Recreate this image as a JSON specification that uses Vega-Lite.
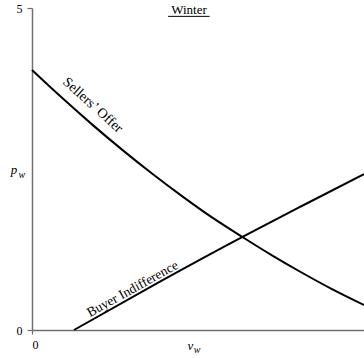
{
  "$schema": "https://vega.github.io/schema/vega-lite/v6.json",
  "width": 332,
  "height": 322,
  "autosize": {"type": "none"},
  "padding": {"left": 32, "top": 8, "right": 0, "bottom": 28},
  "background": "white",
  "config": {
    "view": {"stroke": null},
    "font": "Liberation Serif",
    "text": {"font": "Liberation Serif"},
    "axis": {
      "grid": false,
      "domainColor": "#707070",
      "domainWidth": 1.5,
      "tickColor": "#707070",
      "tickWidth": 1.2,
      "labelFont": "Liberation Serif",
      "labelFontSize": 12,
      "labelColor": "black",
      "title": null
    }
  },
  "datasets": {
    "curves": [
      {"series": "Sellers’ Offer", "v": 0.0, "p": 4.037},
      {"series": "Sellers’ Offer", "v": 0.0904, "p": 3.605},
      {"series": "Sellers’ Offer", "v": 0.1807, "p": 3.193},
      {"series": "Sellers’ Offer", "v": 0.2711, "p": 2.801},
      {"series": "Sellers’ Offer", "v": 0.3614, "p": 2.43},
      {"series": "Sellers’ Offer", "v": 0.4518, "p": 2.079},
      {"series": "Sellers’ Offer", "v": 0.5422, "p": 1.748},
      {"series": "Sellers’ Offer", "v": 0.6325, "p": 1.448},
      {"series": "Sellers’ Offer", "v": 0.7229, "p": 1.159},
      {"series": "Sellers’ Offer", "v": 0.8133, "p": 0.889},
      {"series": "Sellers’ Offer", "v": 0.9036, "p": 0.635},
      {"series": "Sellers’ Offer", "v": 1.0, "p": 0.388},
      {"series": "Buyer Indifference", "v": 0.1265, "p": 0.0},
      {"series": "Buyer Indifference", "v": 0.38, "p": 0.735},
      {"series": "Buyer Indifference", "v": 0.6355, "p": 1.449},
      {"series": "Buyer Indifference", "v": 0.82, "p": 1.945},
      {"series": "Buyer Indifference", "v": 1.0, "p": 2.422}
    ],
    "labels": [
      {"series": "Sellers’ Offer", "v": 0.183, "p": 3.49},
      {"series": "Buyer Indifference", "v": 0.303, "p": 0.637}
    ],
    "title": [
      {"text": "Winter", "v": 0.473, "p": 4.965, "v0": 0.41, "v1": 0.535, "pu": 4.87}
    ],
    "axisletters": [
      {"text": "p", "v": -0.054, "p": 2.484},
      {"text": "v", "v": 0.477, "p": -0.241}
    ],
    "subscripts": [
      {"text": "w", "v": -0.031, "p": 2.4},
      {"text": "w", "v": 0.497, "p": -0.31}
    ]
  },
  "layer": [
    {
      "data": {"name": "curves"},
      "mark": {"type": "line", "color": "black", "strokeWidth": 2, "interpolate": "monotone"},
      "encoding": {
        "x": {"field": "v", "type": "quantitative", "scale": {"domain": [0, 1], "nice": false},
              "axis": {"values": [0], "format": "d", "tickSize": 4, "labelPadding": 5, "labelFont": "Liberation Serif", "labelFontSize": 12}},
        "y": {"field": "p", "type": "quantitative", "scale": {"domain": [0, 5], "nice": false},
              "axis": {"values": [0, 5], "format": "d", "tickSize": 5, "labelPadding": 5, "labelFont": "Liberation Serif", "labelFontSize": 12}},
        "detail": {"field": "series"}
      }
    },
    {
      "data": {"name": "labels"},
      "transform": [{"filter": "datum.series === 'Sellers’ Offer'"}],
      "mark": {"type": "text", "angle": 42, "fontSize": 14, "font": "Liberation Serif", "color": "black", "align": "center", "baseline": "middle"},
      "encoding": {
        "x": {"field": "v", "type": "quantitative"},
        "y": {"field": "p", "type": "quantitative"},
        "text": {"field": "series"}
      }
    },
    {
      "data": {"name": "labels"},
      "transform": [{"filter": "datum.series === 'Buyer Indifference'"}],
      "mark": {"type": "text", "angle": 331, "fontSize": 13.5, "font": "Liberation Serif", "color": "black", "align": "center", "baseline": "middle"},
      "encoding": {
        "x": {"field": "v", "type": "quantitative"},
        "y": {"field": "p", "type": "quantitative"},
        "text": {"field": "series"}
      }
    },
    {
      "data": {"name": "title"},
      "mark": {"type": "text", "fontSize": 13, "font": "Liberation Serif", "color": "black", "align": "center", "baseline": "middle"},
      "encoding": {
        "x": {"field": "v", "type": "quantitative"},
        "y": {"field": "p", "type": "quantitative"},
        "text": {"field": "text"}
      }
    },
    {
      "data": {"name": "title"},
      "mark": {"type": "rule", "color": "black", "strokeWidth": 1},
      "encoding": {
        "x": {"field": "v0", "type": "quantitative"},
        "x2": {"field": "v1"},
        "y": {"field": "pu", "type": "quantitative"}
      }
    },
    {
      "data": {"name": "axisletters"},
      "mark": {"type": "text", "fontSize": 13, "font": "Liberation Serif", "fontStyle": "italic", "color": "black", "align": "center", "baseline": "middle"},
      "encoding": {
        "x": {"field": "v", "type": "quantitative"},
        "y": {"field": "p", "type": "quantitative"},
        "text": {"field": "text"}
      }
    },
    {
      "data": {"name": "subscripts"},
      "mark": {"type": "text", "fontSize": 10, "font": "Liberation Serif", "fontStyle": "italic", "color": "black", "align": "center", "baseline": "middle"},
      "encoding": {
        "x": {"field": "v", "type": "quantitative"},
        "y": {"field": "p", "type": "quantitative"},
        "text": {"field": "text"}
      }
    }
  ]
}
